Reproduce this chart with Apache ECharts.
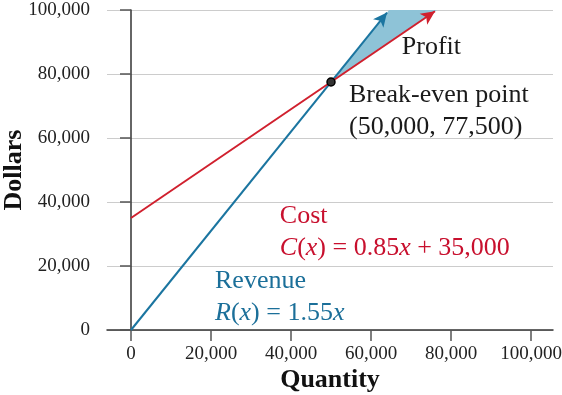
<!DOCTYPE html>
<html>
<head>
<meta charset="utf-8">
<script src="https://cdn.jsdelivr.net/npm/echarts@6/dist/echarts.min.js"></script>
<style>html,body{margin:0;padding:0;background:#fff}#c{width:562px;height:395px}</style>
</head>
<body>
<div id="c"></div>
<script>
var xTicks = [0, 20000, 40000, 60000, 80000, 100000];
var yTicks = [0, 20000, 40000, 60000, 80000, 100000];
var revenueLine = [[0, 0], [64000, 99200]];
var costLine = [[0, 35000], [76000, 99600]];
var breakEven = [50000, 77500];
var profitArea = [[50000, 77500], [64516, 100000], [76470, 100000]];
var labels = [
  {pos: [67700, 88400], text: 'Profit', color: '#1a1a1a'},
  {pos: [54500, 73400], text: 'Break-even point', color: '#1a1a1a'},
  {pos: [54500, 63400], text: '(50,000, 77,500)', color: '#1a1a1a'},
  {pos: [37200, 35600], text: 'Cost', color: '#c8102e'},
  {pos: [37200, 25600], text: '{i|C}({i|x}) = 0.85{i|x} + 35,000', color: '#c8102e'},
  {pos: [21000, 15300], text: 'Revenue', color: '#1b6f99'},
  {pos: [21000, 5300], text: '{i|R}({i|x}) = 1.55{i|x}', color: '#1b6f99'}
];

var SERIF = '"Liberation Serif", "DejaVu Serif", serif';
var ANN = 26;
function fmt(v){ return String(v).replace(/\B(?=(\d{3})+(?!\d))/g, ','); }

var chart = echarts.init(document.getElementById('c'));
chart.setOption({
  animation: false,
  grid: {left: 107, right: 9, top: 10, bottom: 65, containLabel: false, outerBoundsMode: 'none'},
  xAxis: {
    type: 'value', min: -6000, max: 105500,
    name: 'Quantity', nameLocation: 'middle', nameGap: 37, nameMoveOverlap: false,
    nameTextStyle: {fontFamily: SERIF, fontWeight: 'bold', fontSize: 26, color: '#111'},
    axisLine: {show: true, lineStyle: {color: '#333', width: 1.5}},
    axisTick: {show: true, length: 11, customValues: xTicks, lineStyle: {color: '#555', width: 1.5}},
    axisLabel: {customValues: xTicks, formatter: fmt, fontFamily: SERIF, fontSize: 19, color: '#222', margin: 15},
    splitLine: {show: false}
  },
  yAxis: {
    type: 'value', min: 0, max: 100000, interval: 20000,
    name: 'Dollars', nameLocation: 'middle', nameGap: 80, nameMoveOverlap: false,
    nameTextStyle: {fontFamily: SERIF, fontWeight: 'bold', fontSize: 26, color: '#111'},
    axisLine: {show: true, lineStyle: {color: '#333', width: 1.5}},
    axisTick: {show: true, length: 11, lineStyle: {color: '#555', width: 1.5}},
    axisLabel: {formatter: fmt, fontFamily: SERIF, fontSize: 19, color: '#222', margin: 17},
    splitLine: {show: true, lineStyle: {color: '#cccccc', width: 1}}
  },
  series: [
    {
      type: 'custom',
      data: [0],
      renderItem: function(params, api){
        var pts = profitArea.map(function(p){ return api.coord(p); });
        return {type: 'polygon', shape: {points: pts}, style: {fill: '#8ec3d7'}};
      },
      z: 1
    },
    {
      type: 'line', data: [], z: 3,
      markLine: {
        silent: true, animation: false,
        symbol: ['none', 'arrow'], symbolSize: [10, 14],
        label: {show: false},
        data: [
          [{coord: revenueLine[0], lineStyle: {color: '#1b75a0', width: 2, type: 'solid'}}, {coord: revenueLine[1]}],
          [{coord: costLine[0], lineStyle: {color: '#d0202e', width: 2, type: 'solid'}}, {coord: costLine[1]}]
        ]
      }
    },
    {
      type: 'scatter', z: 5, data: [breakEven], symbolSize: 8,
      itemStyle: {color: '#333', borderColor: '#000', borderWidth: 1.5, opacity: 1}
    },
    {
      type: 'scatter', z: 6, symbolSize: 0,
      itemStyle: {opacity: 1},
      data: labels.map(function(l){
        return {value: l.pos, label: {color: l.color, rich: {i: {fontStyle: 'italic', color: l.color, fontFamily: SERIF, fontSize: ANN}}}};
      }),
      label: {
        show: true, position: [0, 0], align: 'left', verticalAlign: 'middle',
        fontFamily: SERIF, fontSize: ANN,
        formatter: function(p){ return labels[p.dataIndex].text; }
      }
    }
  ]
});
</script>
</body>
</html>
